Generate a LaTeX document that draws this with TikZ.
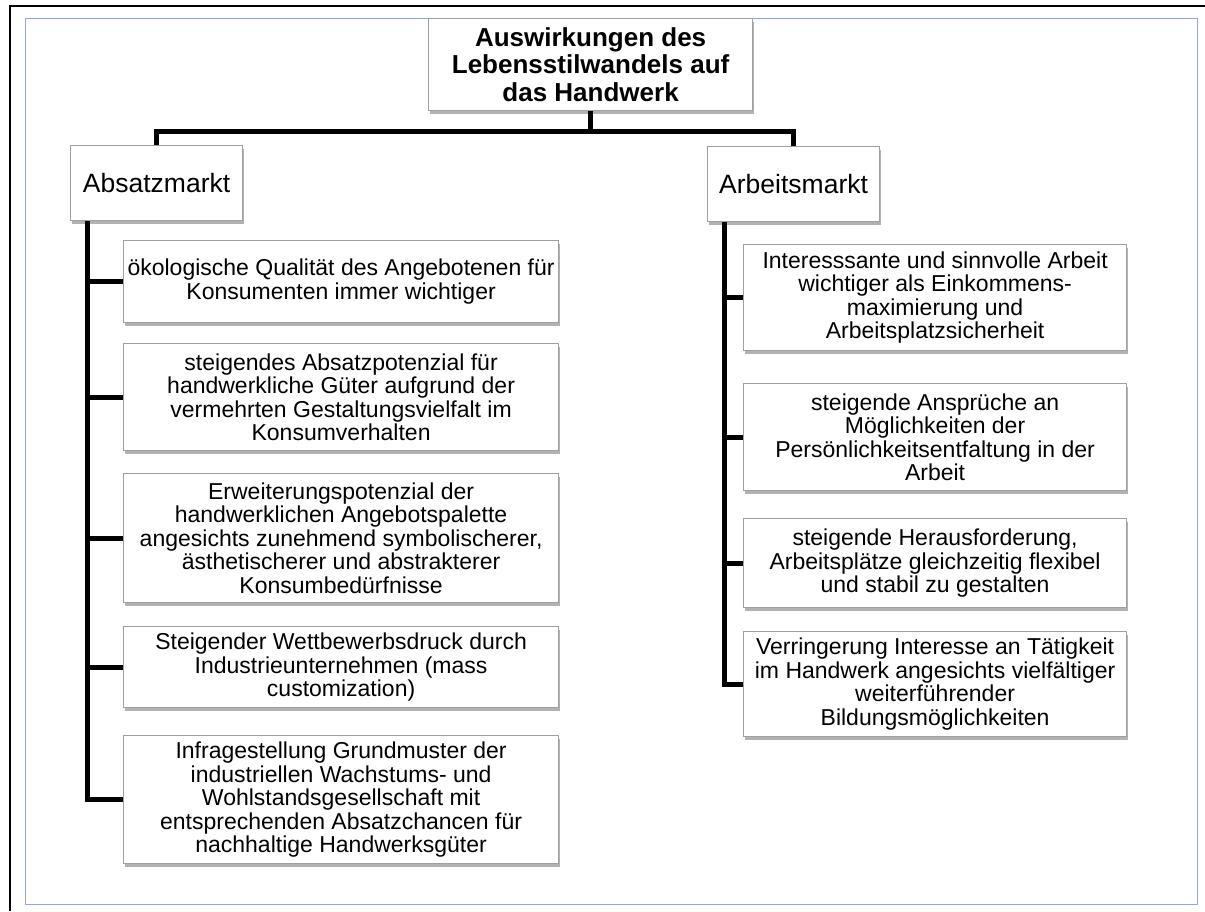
\documentclass[tikz,border=0pt]{standalone}
\usepackage{fontspec}
\setmainfont{Liberation Sans}
\usetikzlibrary{shadows}
\definecolor{framegray}{HTML}{A0A0A0}
\definecolor{frameblue}{HTML}{8EAADB}
\tikzset{
  box/.style={draw=framegray, line width=1.2pt, fill=white, inner sep=0pt, align=center,
    anchor=north west, font=\fontsize{23}{23.5}\selectfont,
    drop shadow={shadow xshift=1.5pt, shadow yshift=-3pt, fill=black, opacity=0.3}},
  headbox/.style={box, font=\fontsize{26.5}{28}\selectfont},
  titlebox/.style={box, font=\bfseries\fontsize{26}{27.5}\selectfont},
  conn/.style={line width=5pt, black, line join=miter},
}
\begin{document}
\begin{tikzpicture}[x=1pt,y=-1pt]
\useasboundingbox (0,0) rectangle (1205,911);
\fill[white] (0,0) rectangle (1205,911);
% outer frames
\draw[black, line width=2.5pt] (10,911) -- (10,6) -- (1205,6);
\draw[frameblue, line width=1pt] (25,18) rectangle (1197,904);

% nodes
\node[titlebox, minimum width=324pt, minimum height=92pt] (title) at (428,18)
  {Auswirkungen des\\Lebensstilwandels auf\\das Handwerk};
\node[headbox, minimum width=172pt, minimum height=75pt] (abs) at (70,145) {Absatzmarkt};
\node[headbox, minimum width=172pt, minimum height=75pt] (arb) at (707,146) {Arbeitsmarkt};

\node[box, minimum width=435pt, minimum height=82pt] (l1) at (123,240)
  {ökologische Qualität des Angebotenen für\\Konsumenten immer wichtiger};
\node[box, minimum width=435pt, minimum height=107pt] (l2) at (123,343)
  {steigendes Absatzpotenzial für\\handwerkliche Güter aufgrund der\\vermehrten Gestaltungsvielfalt im\\Konsumverhalten};
\node[box, minimum width=435pt, minimum height=129pt] (l3) at (123,473)
  {Erweiterungspotenzial der\\handwerklichen Angebotspalette\\angesichts zunehmend symbolischerer,\\ästhetischerer und abstrakterer\\Konsumbedürfnisse};
\node[box, minimum width=435pt, minimum height=81pt] (l4) at (123,626)
  {Steigender Wettbewerbsdruck durch\\Industrieunternehmen (mass\\customization)};
\node[box, minimum width=435pt, minimum height=128pt] (l5) at (123,735)
  {Infragestellung Grundmuster der\\industriellen Wachstums- und\\Wohlstandsgesellschaft mit\\entsprechenden Absatzchancen für\\nachhaltige Handwerksgüter};

\node[box, minimum width=383pt, minimum height=106pt] (r1) at (743,244)
  {Interesssante und sinnvolle Arbeit\\wichtiger als Einkommens-\\maximierung und\\Arbeitsplatzsicherheit};
\node[box, minimum width=383pt, minimum height=107pt] (r2) at (743,383)
  {steigende Ansprüche an\\Möglichkeiten der\\Persönlichkeitsentfaltung in der\\Arbeit};
\node[box, minimum width=383pt, minimum height=89pt] (r3) at (743,518)
  {steigende Herausforderung,\\Arbeitsplätze gleichzeitig flexibel\\und stabil zu gestalten};
\node[box, minimum width=383pt, minimum height=105pt] (r4) at (743,631)
  {Verringerung Interesse an Tätigkeit\\im Handwerk angesichts vielfältiger\\weiterführender\\Bildungsmöglichkeiten};

% connectors
\coordinate (bus) at (0,131);
\coordinate (lt) at (87,0);
\coordinate (rt) at (724,0);
\draw[conn] (title.south) -- (title.south |- bus);
\draw[conn] (abs.north) -- (abs.north |- bus) -- (arb.north |- bus) -- (arb.north);

\draw[conn] (abs.south -| lt) -- (l5.west -| lt) -- (l5.west);
\foreach \n in {l1,l2,l3,l4}
  \draw[conn] (\n.west -| lt) -- (\n.west);
\draw[conn] (arb.south -| rt) -- (r4.west -| rt) -- (r4.west);
\foreach \n in {r1,r2,r3}
  \draw[conn] (\n.west -| rt) -- (\n.west);
\end{tikzpicture}
\end{document}
